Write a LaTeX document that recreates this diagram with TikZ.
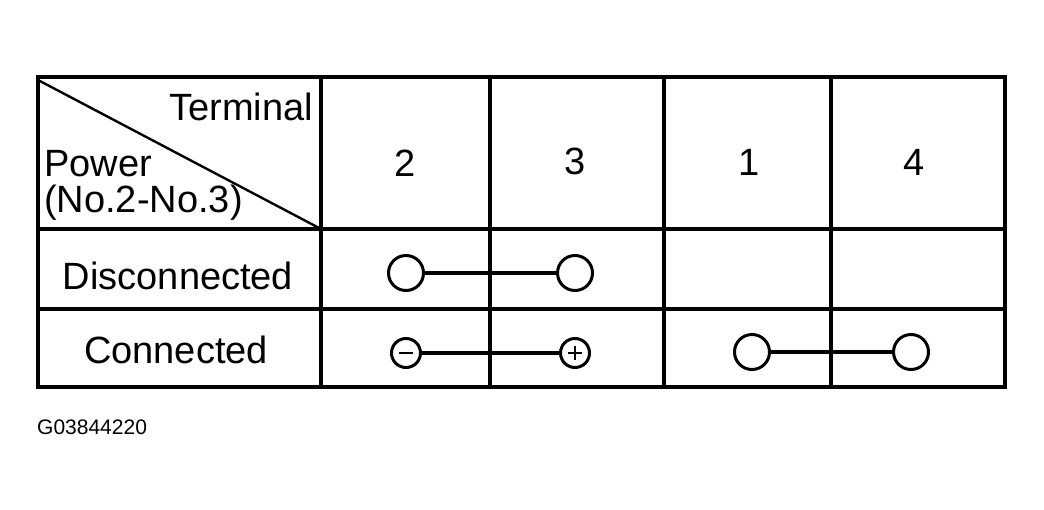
\documentclass[tikz,border=0pt]{standalone}
\usepackage{fontspec}
\setmainfont{Liberation Sans}
\begin{document}
\begin{tikzpicture}[x=1pt,y=-1pt,
  ln/.style={line width=3.4pt},
  txt/.style={font=\fontsize{38}{40}\selectfont,inner sep=0pt},
  pt/.style={circle,draw,line width=3pt,minimum size=35pt,inner sep=0pt},
  sm/.style={circle,draw,line width=3pt,minimum size=29pt,inner sep=0pt}]
\useasboundingbox (0,0) rectangle (1044,509);
\draw[ln] (38,77) rectangle (1005,387);
\foreach \x in {321,490,664,831} \draw[ln] (\x,77) -- (\x,387);
\draw[ln] (38,229) -- (1005,229);
\draw[ln] (38,309) -- (1005,309);
\coordinate (d1) at (38,80); \coordinate (d2) at (321,229);
\draw[line width=2.4pt] (d1) -- (d2);
\node[txt,anchor=east] (term) at (313,107) {Terminal};
\node[txt,anchor=base west] (pow) at (44,176) {Power};
\node[txt,anchor=base west] (no) at (44,212) {(No.2-No.3)};
\node[txt] (c2) at (405,163) {2};
\node[txt] (c3) at (575,161) {3};
\node[txt] (c1) at (749,162) {1};
\node[txt] (c4) at (914,162) {4};
\node[txt] (dis) at (178,276) {Disconnected};
\node[txt] (con) at (176,350) {Connected};
\node[pt] (a) at (406,273) {};
\node[pt] (b) at (575,273) {};
\draw[ln] (a) -- (b);
\node[sm] (m) at (406,353) {};
\node[sm] (p) at (575,353) {};
\draw[line width=2.6pt] ([xshift=-7pt]m.center) -- ([xshift=7pt]m.center);
\draw[line width=2.6pt] ([xshift=-7pt]p.center) -- ([xshift=7pt]p.center);
\draw[line width=2.6pt] ([yshift=-7pt]p.center) -- ([yshift=7pt]p.center);
\draw[ln] (m) -- (p);
\node[pt] (e) at (752,352) {};
\node[pt] (f) at (911,352) {};
\draw[ln] (e) -- (f);
\node[anchor=west,inner sep=0pt,font=\fontsize{21}{22}\selectfont] (id) at (37,427) {G03844220};
\end{tikzpicture}
\end{document}
